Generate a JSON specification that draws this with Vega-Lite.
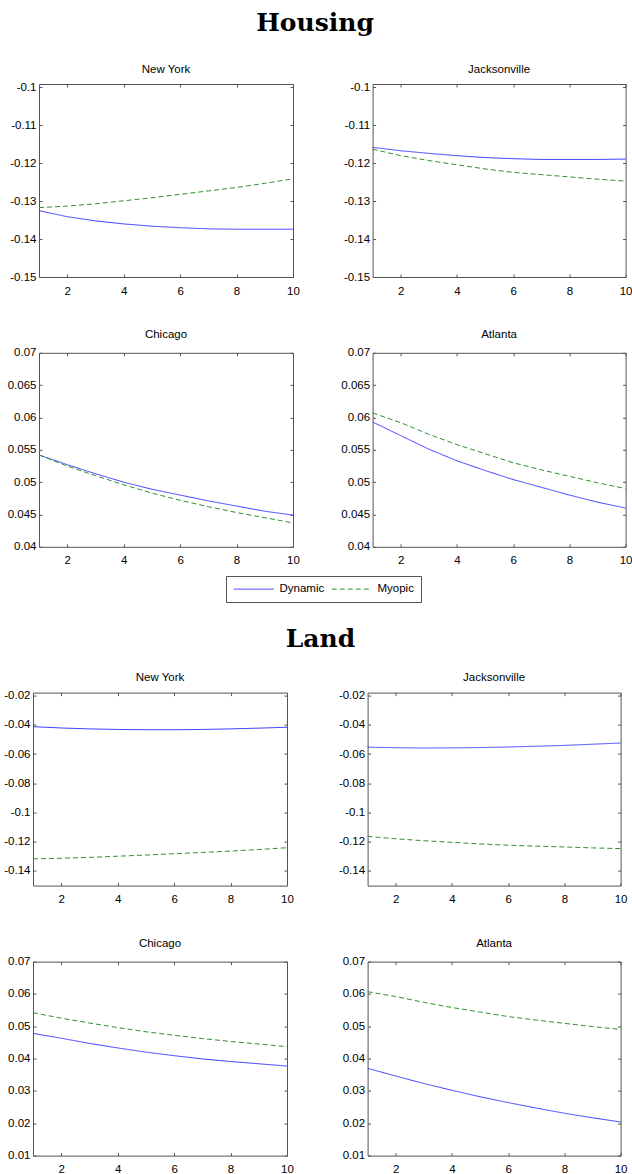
{
"$schema":"https://vega.github.io/schema/vega-lite/v6.json",
"padding":{"left":-2,"top":11,"right":0,"bottom":0},
"data":{"values":[
{"s":"Housing","c":"New York","k":"Dynamic","t":1,"v":-0.1325},{"s":"Housing","c":"New York","k":"Dynamic","t":2,"v":-0.1341},{"s":"Housing","c":"New York","k":"Dynamic","t":3,"v":-0.1352},{"s":"Housing","c":"New York","k":"Dynamic","t":4,"v":-0.1360},{"s":"Housing","c":"New York","k":"Dynamic","t":5,"v":-0.1366},{"s":"Housing","c":"New York","k":"Dynamic","t":6,"v":-0.1370},{"s":"Housing","c":"New York","k":"Dynamic","t":7,"v":-0.1373},{"s":"Housing","c":"New York","k":"Dynamic","t":8,"v":-0.1374},{"s":"Housing","c":"New York","k":"Dynamic","t":9,"v":-0.1374},{"s":"Housing","c":"New York","k":"Dynamic","t":10,"v":-0.1374},
{"s":"Housing","c":"New York","k":"Myopic","t":1,"v":-0.1317},{"s":"Housing","c":"New York","k":"Myopic","t":2,"v":-0.1313},{"s":"Housing","c":"New York","k":"Myopic","t":3,"v":-0.1307},{"s":"Housing","c":"New York","k":"Myopic","t":4,"v":-0.1299},{"s":"Housing","c":"New York","k":"Myopic","t":5,"v":-0.1291},{"s":"Housing","c":"New York","k":"Myopic","t":6,"v":-0.1282},{"s":"Housing","c":"New York","k":"Myopic","t":7,"v":-0.1273},{"s":"Housing","c":"New York","k":"Myopic","t":8,"v":-0.1264},{"s":"Housing","c":"New York","k":"Myopic","t":9,"v":-0.1253},{"s":"Housing","c":"New York","k":"Myopic","t":10,"v":-0.1241},
{"s":"Housing","c":"Jacksonville","k":"Dynamic","t":1,"v":-0.1158},{"s":"Housing","c":"Jacksonville","k":"Dynamic","t":2,"v":-0.1167},{"s":"Housing","c":"Jacksonville","k":"Dynamic","t":3,"v":-0.1174},{"s":"Housing","c":"Jacksonville","k":"Dynamic","t":4,"v":-0.1180},{"s":"Housing","c":"Jacksonville","k":"Dynamic","t":5,"v":-0.1185},{"s":"Housing","c":"Jacksonville","k":"Dynamic","t":6,"v":-0.1188},{"s":"Housing","c":"Jacksonville","k":"Dynamic","t":7,"v":-0.1190},{"s":"Housing","c":"Jacksonville","k":"Dynamic","t":8,"v":-0.1190},{"s":"Housing","c":"Jacksonville","k":"Dynamic","t":9,"v":-0.1190},{"s":"Housing","c":"Jacksonville","k":"Dynamic","t":10,"v":-0.1189},
{"s":"Housing","c":"Jacksonville","k":"Myopic","t":1,"v":-0.1163},{"s":"Housing","c":"Jacksonville","k":"Myopic","t":2,"v":-0.1180},{"s":"Housing","c":"Jacksonville","k":"Myopic","t":3,"v":-0.1193},{"s":"Housing","c":"Jacksonville","k":"Myopic","t":4,"v":-0.1204},{"s":"Housing","c":"Jacksonville","k":"Myopic","t":5,"v":-0.1215},{"s":"Housing","c":"Jacksonville","k":"Myopic","t":6,"v":-0.1224},{"s":"Housing","c":"Jacksonville","k":"Myopic","t":7,"v":-0.1230},{"s":"Housing","c":"Jacksonville","k":"Myopic","t":8,"v":-0.1236},{"s":"Housing","c":"Jacksonville","k":"Myopic","t":9,"v":-0.1242},{"s":"Housing","c":"Jacksonville","k":"Myopic","t":10,"v":-0.1247},
{"s":"Housing","c":"Chicago","k":"Dynamic","t":1,"v":0.0542},{"s":"Housing","c":"Chicago","k":"Dynamic","t":2,"v":0.0527},{"s":"Housing","c":"Chicago","k":"Dynamic","t":3,"v":0.0513},{"s":"Housing","c":"Chicago","k":"Dynamic","t":4,"v":0.0500},{"s":"Housing","c":"Chicago","k":"Dynamic","t":5,"v":0.0489},{"s":"Housing","c":"Chicago","k":"Dynamic","t":6,"v":0.0480},{"s":"Housing","c":"Chicago","k":"Dynamic","t":7,"v":0.0471},{"s":"Housing","c":"Chicago","k":"Dynamic","t":8,"v":0.0463},{"s":"Housing","c":"Chicago","k":"Dynamic","t":9,"v":0.0455},{"s":"Housing","c":"Chicago","k":"Dynamic","t":10,"v":0.0449},
{"s":"Housing","c":"Chicago","k":"Myopic","t":1,"v":0.0542},{"s":"Housing","c":"Chicago","k":"Myopic","t":2,"v":0.0525},{"s":"Housing","c":"Chicago","k":"Myopic","t":3,"v":0.0510},{"s":"Housing","c":"Chicago","k":"Myopic","t":4,"v":0.0496},{"s":"Housing","c":"Chicago","k":"Myopic","t":5,"v":0.0483},{"s":"Housing","c":"Chicago","k":"Myopic","t":6,"v":0.0472},{"s":"Housing","c":"Chicago","k":"Myopic","t":7,"v":0.0462},{"s":"Housing","c":"Chicago","k":"Myopic","t":8,"v":0.0453},{"s":"Housing","c":"Chicago","k":"Myopic","t":9,"v":0.0445},{"s":"Housing","c":"Chicago","k":"Myopic","t":10,"v":0.0437},
{"s":"Housing","c":"Atlanta","k":"Dynamic","t":1,"v":0.0593},{"s":"Housing","c":"Atlanta","k":"Dynamic","t":2,"v":0.0572},{"s":"Housing","c":"Atlanta","k":"Dynamic","t":3,"v":0.0551},{"s":"Housing","c":"Atlanta","k":"Dynamic","t":4,"v":0.0533},{"s":"Housing","c":"Atlanta","k":"Dynamic","t":5,"v":0.0518},{"s":"Housing","c":"Atlanta","k":"Dynamic","t":6,"v":0.0504},{"s":"Housing","c":"Atlanta","k":"Dynamic","t":7,"v":0.0492},{"s":"Housing","c":"Atlanta","k":"Dynamic","t":8,"v":0.0480},{"s":"Housing","c":"Atlanta","k":"Dynamic","t":9,"v":0.0469},{"s":"Housing","c":"Atlanta","k":"Dynamic","t":10,"v":0.0460},
{"s":"Housing","c":"Atlanta","k":"Myopic","t":1,"v":0.0607},{"s":"Housing","c":"Atlanta","k":"Myopic","t":2,"v":0.0592},{"s":"Housing","c":"Atlanta","k":"Myopic","t":3,"v":0.0574},{"s":"Housing","c":"Atlanta","k":"Myopic","t":4,"v":0.0558},{"s":"Housing","c":"Atlanta","k":"Myopic","t":5,"v":0.0544},{"s":"Housing","c":"Atlanta","k":"Myopic","t":6,"v":0.0530},{"s":"Housing","c":"Atlanta","k":"Myopic","t":7,"v":0.0519},{"s":"Housing","c":"Atlanta","k":"Myopic","t":8,"v":0.0509},{"s":"Housing","c":"Atlanta","k":"Myopic","t":9,"v":0.0499},{"s":"Housing","c":"Atlanta","k":"Myopic","t":10,"v":0.0490},
{"s":"Land","c":"New York","k":"Dynamic","t":1,"v":-0.0413},{"s":"Land","c":"New York","k":"Dynamic","t":2,"v":-0.0422},{"s":"Land","c":"New York","k":"Dynamic","t":3,"v":-0.0428},{"s":"Land","c":"New York","k":"Dynamic","t":4,"v":-0.0432},{"s":"Land","c":"New York","k":"Dynamic","t":5,"v":-0.0434},{"s":"Land","c":"New York","k":"Dynamic","t":6,"v":-0.0434},{"s":"Land","c":"New York","k":"Dynamic","t":7,"v":-0.0432},{"s":"Land","c":"New York","k":"Dynamic","t":8,"v":-0.0428},{"s":"Land","c":"New York","k":"Dynamic","t":9,"v":-0.0423},{"s":"Land","c":"New York","k":"Dynamic","t":10,"v":-0.0417},
{"s":"Land","c":"New York","k":"Myopic","t":1,"v":-0.1317},{"s":"Land","c":"New York","k":"Myopic","t":2,"v":-0.1313},{"s":"Land","c":"New York","k":"Myopic","t":3,"v":-0.1307},{"s":"Land","c":"New York","k":"Myopic","t":4,"v":-0.1299},{"s":"Land","c":"New York","k":"Myopic","t":5,"v":-0.1291},{"s":"Land","c":"New York","k":"Myopic","t":6,"v":-0.1282},{"s":"Land","c":"New York","k":"Myopic","t":7,"v":-0.1273},{"s":"Land","c":"New York","k":"Myopic","t":8,"v":-0.1264},{"s":"Land","c":"New York","k":"Myopic","t":9,"v":-0.1253},{"s":"Land","c":"New York","k":"Myopic","t":10,"v":-0.1241},
{"s":"Land","c":"Jacksonville","k":"Dynamic","t":1,"v":-0.0553},{"s":"Land","c":"Jacksonville","k":"Dynamic","t":2,"v":-0.0557},{"s":"Land","c":"Jacksonville","k":"Dynamic","t":3,"v":-0.0559},{"s":"Land","c":"Jacksonville","k":"Dynamic","t":4,"v":-0.0558},{"s":"Land","c":"Jacksonville","k":"Dynamic","t":5,"v":-0.0556},{"s":"Land","c":"Jacksonville","k":"Dynamic","t":6,"v":-0.0552},{"s":"Land","c":"Jacksonville","k":"Dynamic","t":7,"v":-0.0547},{"s":"Land","c":"Jacksonville","k":"Dynamic","t":8,"v":-0.0541},{"s":"Land","c":"Jacksonville","k":"Dynamic","t":9,"v":-0.0533},{"s":"Land","c":"Jacksonville","k":"Dynamic","t":10,"v":-0.0525},
{"s":"Land","c":"Jacksonville","k":"Myopic","t":1,"v":-0.1163},{"s":"Land","c":"Jacksonville","k":"Myopic","t":2,"v":-0.1180},{"s":"Land","c":"Jacksonville","k":"Myopic","t":3,"v":-0.1193},{"s":"Land","c":"Jacksonville","k":"Myopic","t":4,"v":-0.1204},{"s":"Land","c":"Jacksonville","k":"Myopic","t":5,"v":-0.1215},{"s":"Land","c":"Jacksonville","k":"Myopic","t":6,"v":-0.1224},{"s":"Land","c":"Jacksonville","k":"Myopic","t":7,"v":-0.1230},{"s":"Land","c":"Jacksonville","k":"Myopic","t":8,"v":-0.1236},{"s":"Land","c":"Jacksonville","k":"Myopic","t":9,"v":-0.1242},{"s":"Land","c":"Jacksonville","k":"Myopic","t":10,"v":-0.1247},
{"s":"Land","c":"Chicago","k":"Dynamic","t":1,"v":0.0478},{"s":"Land","c":"Chicago","k":"Dynamic","t":2,"v":0.0463},{"s":"Land","c":"Chicago","k":"Dynamic","t":3,"v":0.0447},{"s":"Land","c":"Chicago","k":"Dynamic","t":4,"v":0.0433},{"s":"Land","c":"Chicago","k":"Dynamic","t":5,"v":0.0420},{"s":"Land","c":"Chicago","k":"Dynamic","t":6,"v":0.0409},{"s":"Land","c":"Chicago","k":"Dynamic","t":7,"v":0.0399},{"s":"Land","c":"Chicago","k":"Dynamic","t":8,"v":0.0391},{"s":"Land","c":"Chicago","k":"Dynamic","t":9,"v":0.0384},{"s":"Land","c":"Chicago","k":"Dynamic","t":10,"v":0.0377},
{"s":"Land","c":"Chicago","k":"Myopic","t":1,"v":0.0542},{"s":"Land","c":"Chicago","k":"Myopic","t":2,"v":0.0525},{"s":"Land","c":"Chicago","k":"Myopic","t":3,"v":0.0510},{"s":"Land","c":"Chicago","k":"Myopic","t":4,"v":0.0496},{"s":"Land","c":"Chicago","k":"Myopic","t":5,"v":0.0483},{"s":"Land","c":"Chicago","k":"Myopic","t":6,"v":0.0472},{"s":"Land","c":"Chicago","k":"Myopic","t":7,"v":0.0462},{"s":"Land","c":"Chicago","k":"Myopic","t":8,"v":0.0453},{"s":"Land","c":"Chicago","k":"Myopic","t":9,"v":0.0445},{"s":"Land","c":"Chicago","k":"Myopic","t":10,"v":0.0437},
{"s":"Land","c":"Atlanta","k":"Dynamic","t":1,"v":0.0370},{"s":"Land","c":"Atlanta","k":"Dynamic","t":2,"v":0.0346},{"s":"Land","c":"Atlanta","k":"Dynamic","t":3,"v":0.0323},{"s":"Land","c":"Atlanta","k":"Dynamic","t":4,"v":0.0302},{"s":"Land","c":"Atlanta","k":"Dynamic","t":5,"v":0.0282},{"s":"Land","c":"Atlanta","k":"Dynamic","t":6,"v":0.0264},{"s":"Land","c":"Atlanta","k":"Dynamic","t":7,"v":0.0247},{"s":"Land","c":"Atlanta","k":"Dynamic","t":8,"v":0.0231},{"s":"Land","c":"Atlanta","k":"Dynamic","t":9,"v":0.0217},{"s":"Land","c":"Atlanta","k":"Dynamic","t":10,"v":0.0204},
{"s":"Land","c":"Atlanta","k":"Myopic","t":1,"v":0.0607},{"s":"Land","c":"Atlanta","k":"Myopic","t":2,"v":0.0592},{"s":"Land","c":"Atlanta","k":"Myopic","t":3,"v":0.0574},{"s":"Land","c":"Atlanta","k":"Myopic","t":4,"v":0.0558},{"s":"Land","c":"Atlanta","k":"Myopic","t":5,"v":0.0544},{"s":"Land","c":"Atlanta","k":"Myopic","t":6,"v":0.0530},{"s":"Land","c":"Atlanta","k":"Myopic","t":7,"v":0.0519},{"s":"Land","c":"Atlanta","k":"Myopic","t":8,"v":0.0509},{"s":"Land","c":"Atlanta","k":"Myopic","t":9,"v":0.0499},{"s":"Land","c":"Atlanta","k":"Myopic","t":10,"v":0.0490}
]},
"columns":1,
"center":true,
"spacing":59.6,
"concat":[
{"title":{"text":"Housing","font":"DejaVu Serif","fontWeight":"bold","fontSize":25,"offset":7.6,"baseline":"alphabetic","anchor":"middle"},
 "spacing":31.8,
 "vconcat":[
  {"spacing":40.6,"hconcat":[
   {"width":254,"height":193,"title":"New York","transform":[{"filter":"datum.s=='Housing' && datum.c=='New York'"}],
    "layer":[
     {"mark":{"type":"line","strokeWidth":1},"encoding":{
      "x":{"field":"t","type":"quantitative","scale":{"domain":[1,10]},"axis":{"values":[2,4,6,8,10],"title":null,"labelPadding":11,"labelExpr":"''+datum.value"}},
      "y":{"field":"v","type":"quantitative","scale":{"domain":[-0.15,-0.0991],"zero":false,"nice":false},"axis":{"values":[-0.15,-0.14,-0.13,-0.12,-0.11,-0.1],"title":null,"labelPadding":6,"minExtent":41,"maxExtent":41,"labelExpr":"''+datum.value"}},
      "color":{"field":"k","type":"nominal","title":null,"scale":{"domain":["Dynamic","Myopic"],"range":["#3b3bff","#2f8f2f"]},"legend":{"orient":"none","legendX":193,"legendY":492,"direction":"horizontal","symbolType":"M-1,0H7","symbolSize":100,"symbolStrokeWidth":1,"labelOffset":35,"columnPadding":4,"padding":7,"strokeColor":"#555","fillColor":"#fff","labelFont":"Liberation Sans","labelFontSize":11.5,"labelColor":"#000","title":null}},
      "strokeDash":{"field":"k","type":"nominal","title":null,"scale":{"domain":["Dynamic","Myopic"],"range":[[1,0],[5,3]]},"legend":{"orient":"none","legendX":193,"legendY":492,"direction":"horizontal","symbolType":"M-1,0H7","symbolSize":100,"symbolStrokeWidth":1,"labelOffset":35,"columnPadding":4,"padding":7,"strokeColor":"#555","fillColor":"#fff","labelFont":"Liberation Sans","labelFontSize":11.5,"labelColor":"#000","title":null}}}},
     {"mark":{"type":"line","strokeOpacity":0},"encoding":{
      "x":{"field":"t","type":"quantitative","scale":{"domain":[1,10]},"axis":{"orient":"top","values":[2,4,6,8,10],"title":null,"labels":false,"minExtent":0,"maxExtent":0}},
      "y":{"field":"v","type":"quantitative","scale":{"domain":[-0.15,-0.0991],"zero":false,"nice":false},"axis":{"orient":"right","values":[-0.15,-0.14,-0.13,-0.12,-0.11,-0.1],"title":null,"labels":false,"minExtent":0,"maxExtent":0}},
      "detail":{"field":"k"}}}],
    "resolve":{"axis":{"x":"independent","y":"independent"}}},
   {"width":253,"height":193,"title":"Jacksonville","transform":[{"filter":"datum.s=='Housing' && datum.c=='Jacksonville'"}],
    "layer":[
     {"mark":{"type":"line","strokeWidth":1},"encoding":{
      "x":{"field":"t","type":"quantitative","scale":{"domain":[1,10]},"axis":{"values":[2,4,6,8,10],"title":null,"labelPadding":11,"labelExpr":"''+datum.value"}},
      "y":{"field":"v","type":"quantitative","scale":{"domain":[-0.15,-0.0991],"zero":false,"nice":false},"axis":{"values":[-0.15,-0.14,-0.13,-0.12,-0.11,-0.1],"title":null,"labelPadding":6,"minExtent":32,"maxExtent":32,"labelExpr":"''+datum.value"}},
      "color":{"field":"k","type":"nominal","title":null,"scale":{"domain":["Dynamic","Myopic"],"range":["#3b3bff","#2f8f2f"]}},
      "strokeDash":{"field":"k","type":"nominal","title":null,"scale":{"domain":["Dynamic","Myopic"],"range":[[1,0],[5,3]]}}}},
     {"mark":{"type":"line","strokeOpacity":0},"encoding":{
      "x":{"field":"t","type":"quantitative","scale":{"domain":[1,10]},"axis":{"orient":"top","values":[2,4,6,8,10],"title":null,"labels":false,"minExtent":0,"maxExtent":0}},
      "y":{"field":"v","type":"quantitative","scale":{"domain":[-0.15,-0.0991],"zero":false,"nice":false},"axis":{"orient":"right","values":[-0.15,-0.14,-0.13,-0.12,-0.11,-0.1],"title":null,"labels":false,"minExtent":0,"maxExtent":0}},
      "detail":{"field":"k"}}}],
    "resolve":{"axis":{"x":"independent","y":"independent"}}}
  ]},
  {"spacing":40.6,"hconcat":[
   {"width":254,"height":194,"title":"Chicago","transform":[{"filter":"datum.s=='Housing' && datum.c=='Chicago'"}],
    "layer":[
     {"mark":{"type":"line","strokeWidth":1},"encoding":{
      "x":{"field":"t","type":"quantitative","scale":{"domain":[1,10]},"axis":{"values":[2,4,6,8,10],"title":null,"labelPadding":11,"labelExpr":"''+datum.value"}},
      "y":{"field":"v","type":"quantitative","scale":{"domain":[0.04,0.07],"zero":false,"nice":false},"axis":{"values":[0.04,0.045,0.05,0.055,0.06,0.065,0.07],"title":null,"labelPadding":6,"minExtent":41,"maxExtent":41,"labelExpr":"''+datum.value"}},
      "color":{"field":"k","type":"nominal","title":null,"scale":{"domain":["Dynamic","Myopic"],"range":["#3b3bff","#2f8f2f"]}},
      "strokeDash":{"field":"k","type":"nominal","title":null,"scale":{"domain":["Dynamic","Myopic"],"range":[[1,0],[5,3]]}}}},
     {"mark":{"type":"line","strokeOpacity":0},"encoding":{
      "x":{"field":"t","type":"quantitative","scale":{"domain":[1,10]},"axis":{"orient":"top","values":[2,4,6,8,10],"title":null,"labels":false,"minExtent":0,"maxExtent":0}},
      "y":{"field":"v","type":"quantitative","scale":{"domain":[0.04,0.07],"zero":false,"nice":false},"axis":{"orient":"right","values":[0.04,0.045,0.05,0.055,0.06,0.065,0.07],"title":null,"labels":false,"minExtent":0,"maxExtent":0}},
      "detail":{"field":"k"}}}],
    "resolve":{"axis":{"x":"independent","y":"independent"}}},
   {"width":253,"height":194,"title":"Atlanta","transform":[{"filter":"datum.s=='Housing' && datum.c=='Atlanta'"}],
    "layer":[
     {"mark":{"type":"line","strokeWidth":1},"encoding":{
      "x":{"field":"t","type":"quantitative","scale":{"domain":[1,10]},"axis":{"values":[2,4,6,8,10],"title":null,"labelPadding":11,"labelExpr":"''+datum.value"}},
      "y":{"field":"v","type":"quantitative","scale":{"domain":[0.04,0.07],"zero":false,"nice":false},"axis":{"values":[0.04,0.045,0.05,0.055,0.06,0.065,0.07],"title":null,"labelPadding":6,"minExtent":32,"maxExtent":32,"labelExpr":"''+datum.value"}},
      "color":{"field":"k","type":"nominal","title":null,"scale":{"domain":["Dynamic","Myopic"],"range":["#3b3bff","#2f8f2f"]}},
      "strokeDash":{"field":"k","type":"nominal","title":null,"scale":{"domain":["Dynamic","Myopic"],"range":[[1,0],[5,3]]}}}},
     {"mark":{"type":"line","strokeOpacity":0},"encoding":{
      "x":{"field":"t","type":"quantitative","scale":{"domain":[1,10]},"axis":{"orient":"top","values":[2,4,6,8,10],"title":null,"labels":false,"minExtent":0,"maxExtent":0}},
      "y":{"field":"v","type":"quantitative","scale":{"domain":[0.04,0.07],"zero":false,"nice":false},"axis":{"orient":"right","values":[0.04,0.045,0.05,0.055,0.06,0.065,0.07],"title":null,"labels":false,"minExtent":0,"maxExtent":0}},
      "detail":{"field":"k"}}}],
    "resolve":{"axis":{"x":"independent","y":"independent"}}}
  ]}
 ]},
{"title":{"text":"Land","font":"DejaVu Serif","fontWeight":"bold","fontSize":25,"offset":0,"baseline":"alphabetic","anchor":"middle"},
 "spacing":32,
 "vconcat":[
  {"spacing":43.6,"hconcat":[
   {"width":254,"height":193,"title":"New York","transform":[{"filter":"datum.s=='Land' && datum.c=='New York'"}],
    "layer":[
     {"mark":{"type":"line","strokeWidth":1},"encoding":{
      "x":{"field":"t","type":"quantitative","scale":{"domain":[1,10]},"axis":{"values":[2,4,6,8,10],"title":null,"labelPadding":11,"labelExpr":"''+datum.value"}},
      "y":{"field":"v","type":"quantitative","scale":{"domain":[-0.15,-0.018],"zero":false,"nice":false},"axis":{"values":[-0.14,-0.12,-0.1,-0.08,-0.06,-0.04,-0.02],"title":null,"labelPadding":6,"minExtent":30,"maxExtent":30,"labelExpr":"''+datum.value"}},
      "color":{"field":"k","type":"nominal","title":null,"scale":{"domain":["Dynamic","Myopic"],"range":["#3b3bff","#2f8f2f"]}},
      "strokeDash":{"field":"k","type":"nominal","title":null,"scale":{"domain":["Dynamic","Myopic"],"range":[[1,0],[5,3]]}}}},
     {"mark":{"type":"line","strokeOpacity":0},"encoding":{
      "x":{"field":"t","type":"quantitative","scale":{"domain":[1,10]},"axis":{"orient":"top","values":[2,4,6,8,10],"title":null,"labels":false,"minExtent":0,"maxExtent":0}},
      "y":{"field":"v","type":"quantitative","scale":{"domain":[-0.15,-0.018],"zero":false,"nice":false},"axis":{"orient":"right","values":[-0.14,-0.12,-0.1,-0.08,-0.06,-0.04,-0.02],"title":null,"labels":false,"minExtent":0,"maxExtent":0}},
      "detail":{"field":"k"}}}],
    "resolve":{"axis":{"x":"independent","y":"independent"}}},
   {"width":253,"height":193,"title":"Jacksonville","transform":[{"filter":"datum.s=='Land' && datum.c=='Jacksonville'"}],
    "layer":[
     {"mark":{"type":"line","strokeWidth":1},"encoding":{
      "x":{"field":"t","type":"quantitative","scale":{"domain":[1,10]},"axis":{"values":[2,4,6,8,10],"title":null,"labelPadding":11,"labelExpr":"''+datum.value"}},
      "y":{"field":"v","type":"quantitative","scale":{"domain":[-0.15,-0.018],"zero":false,"nice":false},"axis":{"values":[-0.14,-0.12,-0.1,-0.08,-0.06,-0.04,-0.02],"title":null,"labelPadding":6,"minExtent":30,"maxExtent":30,"labelExpr":"''+datum.value"}},
      "color":{"field":"k","type":"nominal","title":null,"scale":{"domain":["Dynamic","Myopic"],"range":["#3b3bff","#2f8f2f"]}},
      "strokeDash":{"field":"k","type":"nominal","title":null,"scale":{"domain":["Dynamic","Myopic"],"range":[[1,0],[5,3]]}}}},
     {"mark":{"type":"line","strokeOpacity":0},"encoding":{
      "x":{"field":"t","type":"quantitative","scale":{"domain":[1,10]},"axis":{"orient":"top","values":[2,4,6,8,10],"title":null,"labels":false,"minExtent":0,"maxExtent":0}},
      "y":{"field":"v","type":"quantitative","scale":{"domain":[-0.15,-0.018],"zero":false,"nice":false},"axis":{"orient":"right","values":[-0.14,-0.12,-0.1,-0.08,-0.06,-0.04,-0.02],"title":null,"labels":false,"minExtent":17.4,"maxExtent":17.4}},
      "detail":{"field":"k"}}}],
    "resolve":{"axis":{"x":"independent","y":"independent"}}}
  ]},
  {"spacing":43.6,"hconcat":[
   {"width":254,"height":194,"title":"Chicago","transform":[{"filter":"datum.s=='Land' && datum.c=='Chicago'"}],
    "layer":[
     {"mark":{"type":"line","strokeWidth":1},"encoding":{
      "x":{"field":"t","type":"quantitative","scale":{"domain":[1,10]},"axis":{"values":[2,4,6,8,10],"title":null,"labelPadding":11,"labelExpr":"''+datum.value"}},
      "y":{"field":"v","type":"quantitative","scale":{"domain":[0.01,0.07],"zero":false,"nice":false},"axis":{"values":[0.01,0.02,0.03,0.04,0.05,0.06,0.07],"title":null,"labelPadding":6,"minExtent":30,"maxExtent":30,"labelExpr":"''+datum.value"}},
      "color":{"field":"k","type":"nominal","title":null,"scale":{"domain":["Dynamic","Myopic"],"range":["#3b3bff","#2f8f2f"]}},
      "strokeDash":{"field":"k","type":"nominal","title":null,"scale":{"domain":["Dynamic","Myopic"],"range":[[1,0],[5,3]]}}}},
     {"mark":{"type":"line","strokeOpacity":0},"encoding":{
      "x":{"field":"t","type":"quantitative","scale":{"domain":[1,10]},"axis":{"orient":"top","values":[2,4,6,8,10],"title":null,"labels":false,"minExtent":0,"maxExtent":0}},
      "y":{"field":"v","type":"quantitative","scale":{"domain":[0.01,0.07],"zero":false,"nice":false},"axis":{"orient":"right","values":[0.01,0.02,0.03,0.04,0.05,0.06,0.07],"title":null,"labels":false,"minExtent":0,"maxExtent":0}},
      "detail":{"field":"k"}}}],
    "resolve":{"axis":{"x":"independent","y":"independent"}}},
   {"width":253,"height":194,"title":"Atlanta","transform":[{"filter":"datum.s=='Land' && datum.c=='Atlanta'"}],
    "layer":[
     {"mark":{"type":"line","strokeWidth":1},"encoding":{
      "x":{"field":"t","type":"quantitative","scale":{"domain":[1,10]},"axis":{"values":[2,4,6,8,10],"title":null,"labelPadding":11,"labelExpr":"''+datum.value"}},
      "y":{"field":"v","type":"quantitative","scale":{"domain":[0.01,0.07],"zero":false,"nice":false},"axis":{"values":[0.01,0.02,0.03,0.04,0.05,0.06,0.07],"title":null,"labelPadding":6,"minExtent":30,"maxExtent":30,"labelExpr":"''+datum.value"}},
      "color":{"field":"k","type":"nominal","title":null,"scale":{"domain":["Dynamic","Myopic"],"range":["#3b3bff","#2f8f2f"]}},
      "strokeDash":{"field":"k","type":"nominal","title":null,"scale":{"domain":["Dynamic","Myopic"],"range":[[1,0],[5,3]]}}}},
     {"mark":{"type":"line","strokeOpacity":0},"encoding":{
      "x":{"field":"t","type":"quantitative","scale":{"domain":[1,10]},"axis":{"orient":"top","values":[2,4,6,8,10],"title":null,"labels":false,"minExtent":0,"maxExtent":0}},
      "y":{"field":"v","type":"quantitative","scale":{"domain":[0.01,0.07],"zero":false,"nice":false},"axis":{"orient":"right","values":[0.01,0.02,0.03,0.04,0.05,0.06,0.07],"title":null,"labels":false,"minExtent":17.4,"maxExtent":17.4}},
      "detail":{"field":"k"}}}],
    "resolve":{"axis":{"x":"independent","y":"independent"}}}
  ]}
 ]}
],
"config":{
 "view":{"stroke":null},
 "axis":{"grid":false,"domainColor":"#555","tickColor":"#555","tickSize":-3,"domainWidth":1,"tickWidth":1,"labelFont":"Liberation Sans","labelFontSize":11.5,"labelColor":"#000","labelFlush":false,"labelOverlap":false,"labelBound":false},
 "title":{"font":"Liberation Sans","fontSize":11.5,"fontWeight":"normal","baseline":"alphabetic","offset":6,"color":"#000"}
}
}
